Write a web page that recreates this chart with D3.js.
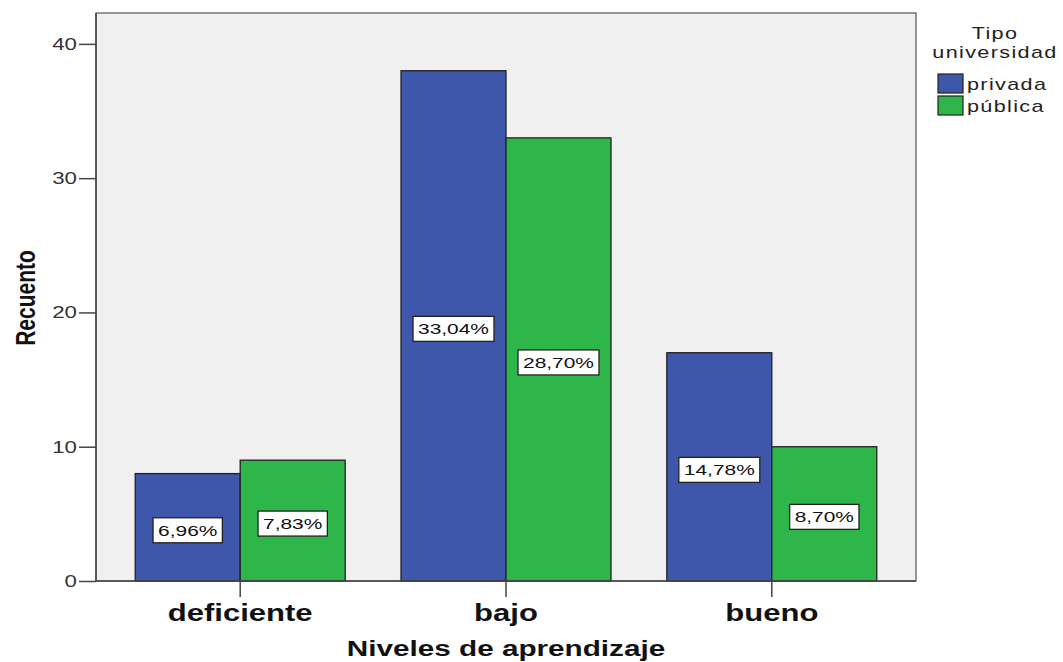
<!DOCTYPE html>
<html>
<head>
<meta charset="utf-8">
<script src="https://cdn.jsdelivr.net/npm/d3@7"></script>
<style>
  body { margin: 0; background: #fff; }
  text { font-family: "Liberation Sans", Arial, sans-serif; }
</style>
</head>
<body>
<svg width="1063" height="662"></svg>
<script>
const categories = ["deficiente", "bajo", "bueno"];
const seriesNames = ["privada", "pública"];
const privada = [8, 38, 17];
const publica = [9, 33, 10];
const privadaLabels = ["6,96%", "33,04%", "14,78%"];
const publicaLabels = ["7,83%", "28,70%", "8,70%"];
const yTicks = [0, 10, 20, 30, 40];

const colors = ["#3e57aa", "#2fb64a"];
const series = [privada, publica];
const seriesLabels = [privadaLabels, publicaLabels];
const SX = 1.35; // the original text is drawn wide

const svg = d3.select("svg");
const plotLeft = 96, plotRight = 916, plotTop = 13, plotBottom = 581;

// move x/y into a translate so the text can be widened in place
function stretch(sel) {
  sel.each(function () {
    const t = d3.select(this);
    const tx = +t.attr("x") || 0, ty = +t.attr("y") || 0;
    t.attr("x", 0).attr("y", 0)
      .attr("transform", "translate(" + tx + "," + ty + ") scale(" + SX + ",1)");
  });
}

const y = d3.scaleLinear().domain([0, 42.3]).range([plotBottom, plotTop]);
const x = d3.scaleBand().domain(categories).range([plotLeft, plotRight])
    .paddingInner(0.21).paddingOuter(0.1475);
const xs = d3.scaleBand().domain(seriesNames).range([0, x.bandwidth()]);

// plot background
svg.append("rect")
  .attr("x", plotLeft).attr("y", plotTop)
  .attr("width", plotRight - plotLeft).attr("height", plotBottom - plotTop)
  .attr("fill", "#f0f0f0").attr("stroke", "#555").attr("stroke-width", 1.2);

// bars
const groups = svg.append("g").selectAll("g")
  .data(categories).enter().append("g")
  .attr("transform", (d) => "translate(" + x(d) + ",0)");

seriesNames.forEach((name, s) => {
  groups.append("rect")
    .attr("x", xs(name))
    .attr("y", (d, i) => y(series[s][i]))
    .attr("width", xs.bandwidth())
    .attr("height", (d, i) => y(0) - y(series[s][i]))
    .attr("fill", colors[s])
    .attr("stroke", "#222").attr("stroke-width", 1.3);
});

// value labels in white boxes
seriesNames.forEach((name, s) => {
  const lab = groups.append("g")
    .attr("transform", (d, i) => "translate(" + (xs(name) + xs.bandwidth() / 2) + "," +
      ((y(series[s][i]) + y(0)) / 2 + 3) + ")");
  const box = lab.append("rect")
    .attr("y", -12.5).attr("height", 25)
    .attr("fill", "#fff").attr("stroke", "#222").attr("stroke-width", 1.3);
  const txt = lab.append("text")
    .attr("text-anchor", "middle").attr("dy", "0.36em")
    .attr("font-size", 15.5).attr("fill", "#111")
    .attr("transform", "scale(" + SX + ",1)")
    .text((d, i) => seriesLabels[s][i]);
  txt.each(function (d, i) {
    const w = this.getComputedTextLength() * SX + 10;
    d3.select(box.nodes()[i]).attr("x", -w / 2).attr("width", w);
  });
});

// y axis
const yAxis = svg.append("g")
  .attr("transform", "translate(" + plotLeft + ",0)")
  .call(d3.axisLeft(y).tickValues(yTicks).tickSize(17).tickPadding(2));
yAxis.select(".domain").remove();
yAxis.selectAll("line").attr("stroke", "#444").attr("stroke-width", 1.5);
yAxis.selectAll("text").attr("font-size", 16.5).attr("fill", "#333")
  .attr("font-family", "Liberation Sans, Arial, sans-serif").call(stretch);
svg.append("line").attr("x1", plotLeft).attr("x2", plotLeft).attr("y1", plotTop).attr("y2", plotBottom)
  .attr("stroke", "#444").attr("stroke-width", 1.5);

// x axis
const xAxis = svg.append("g")
  .attr("transform", "translate(0," + plotBottom + ")")
  .call(d3.axisBottom(x).tickSize(16).tickPadding(8));
xAxis.select(".domain").remove();
xAxis.selectAll("line").attr("stroke", "#444").attr("stroke-width", 1.5);
xAxis.selectAll("text").attr("font-size", 23).attr("font-weight", "bold")
  .attr("fill", "#111").attr("font-family", "Liberation Sans, Arial, sans-serif")
  .call(stretch);
svg.append("line").attr("x1", plotLeft).attr("x2", plotRight).attr("y1", plotBottom).attr("y2", plotBottom)
  .attr("stroke", "#444").attr("stroke-width", 1.5);

// axis titles
svg.append("text")
  .attr("x", (plotLeft + plotRight) / 2).attr("y", 656)
  .attr("text-anchor", "middle").attr("font-size", 22).attr("font-weight", "bold")
  .attr("fill", "#111")
  .text("Niveles de aprendizaje")
  .call(stretch);

svg.append("text")
  .attr("transform", "translate(35,298) scale(" + SX + ",1) rotate(-90)")
  .attr("text-anchor", "middle").attr("font-size", 21).attr("font-weight", "bold")
  .attr("fill", "#111")
  .text("Recuento");

// legend
const legend = svg.append("g");
legend.append("text").attr("x", 995).attr("y", 39).attr("text-anchor", "middle")
  .attr("font-size", 16).attr("letter-spacing", 1).attr("fill", "#222").text("Tipo").call(stretch);
legend.append("text").attr("x", 995).attr("y", 58).attr("text-anchor", "middle")
  .attr("font-size", 16).attr("letter-spacing", 1).attr("fill", "#222").text("universidad").call(stretch);
seriesNames.forEach((name, s) => {
  legend.append("rect")
    .attr("x", 938).attr("y", 74 + s * 22).attr("width", 25).attr("height", 19)
    .attr("fill", colors[s]).attr("stroke", "#222").attr("stroke-width", 1.2);
  legend.append("text")
    .attr("x", 967).attr("y", 90 + s * 22)
    .attr("font-size", 16).attr("letter-spacing", 1).attr("fill", "#222").text(name)
    .call(stretch);
});
</script>
</body>
</html>
